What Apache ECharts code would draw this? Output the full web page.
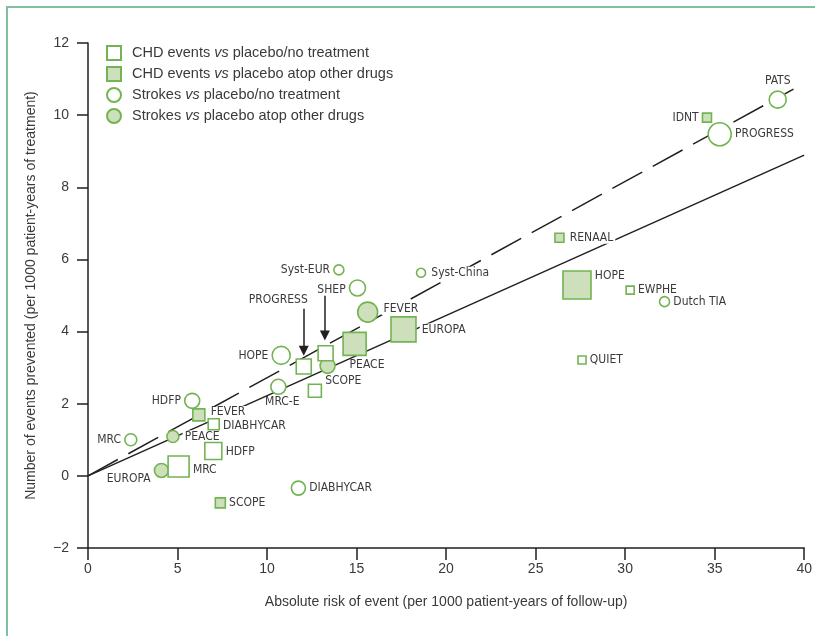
<!DOCTYPE html>
<html>
<head>
<meta charset="utf-8">
<script src="https://cdn.jsdelivr.net/npm/echarts@6/dist/echarts.min.js"></script>
<style>
  html, body { margin: 0; padding: 0; background: #fff; }
  #chart { width: 815px; height: 636px; }
  #frame { position: absolute; left: 6px; top: 6px; right: 0; bottom: 0;
           border-top: 2px solid #80bfa0; border-left: 2px solid #80bfa0; pointer-events: none; }
</style>
</head>
<body>
<div id="chart"></div>
<div id="frame"></div>
<script>
// --- data ---
var chdOpenNames = ['PROGRESS', 'SHEP', 'SCOPE', 'DIABHYCAR', 'HDFP', 'MRC', 'EWPHE', 'QUIET'];
var chdOpenX = [12.05, 13.27, 12.67, 7.02, 7.0, 5.06, 30.28, 27.59];
var chdOpenY = [3.03, 3.40, 2.36, 1.43, 0.69, 0.26, 5.15, 3.21];

var chdAtopNames = ['IDNT', 'RENAAL', 'HOPE', 'EUROPA', 'PEACE', 'FEVER', 'SCOPE'];
var chdAtopX = [34.57, 26.33, 27.31, 17.62, 14.89, 6.19, 7.39];
var chdAtopY = [9.93, 6.60, 5.29, 4.06, 3.66, 1.69, -0.75];

var strokeOpenNames = ['PATS', 'PROGRESS', 'Syst-EUR', 'Syst-China', 'SHEP', 'Dutch TIA', 'HOPE', 'MRC-E', 'HDFP', 'MRC', 'DIABHYCAR'];
var strokeOpenX = [38.52, 35.28, 14.01, 18.6, 15.05, 32.2, 10.79, 10.63, 5.82, 2.39, 11.75];
var strokeOpenY = [10.43, 9.47, 5.71, 5.63, 5.21, 4.83, 3.34, 2.47, 2.08, 1.0, -0.34];

var strokeAtopNames = ['FEVER', 'SCOPE', 'PEACE', 'EUROPA'];
var strokeAtopX = [15.62, 13.38, 4.74, 4.1];
var strokeAtopY = [4.54, 3.05, 1.09, 0.15];

// fitted lines (start, end)
var dashedLine = [[0, 0], [39.4, 10.72]];
var solidLine = [[0, 0], [40, 8.89]];

// arrows pointing at the CHD squares of PROGRESS and SHEP
var arrowNames = ['PROGRESS', 'SHEP'];
var arrowX = [12.05, 13.23];
var arrowFromY = [4.63, 4.99];
var arrowToY = [3.47, 3.89];

var xTicks = [0, 5, 10, 15, 20, 25, 30, 35, 40];
var yTicks = [-2, 0, 2, 4, 6, 8, 10, 12];

var legendNames = [
  'CHD events vs placebo/no treatment',
  'CHD events vs placebo atop other drugs',
  'Strokes vs placebo/no treatment',
  'Strokes vs placebo atop other drugs'
];

// --- marker sizes and label placement (visual only) ---
var chdOpenSize = [15, 15, 13, 11, 17, 21, 8, 8];
var chdAtopSize = [9, 9, 28, 25, 23, 12, 10];
var strokeOpenSize = [17, 23, 10, 9, 16, 10, 18, 15, 15, 12, 14];
var strokeAtopSize = [20, 15, 12, 14];

// [position, dx, dy, white box behind text]
var chdOpenPlace = [null, null, ['right', 0, -10], ['right', 0, 2], ['right', 0, 1], ['right', 0, 3], ['right', 0, 0], ['right', 0, 0]];
var chdAtopPlace = [['left', 0, 0], ['right', 0, 0, true], ['right', 0, -9], ['right', 0, 0, true], ['bottomLeft', -5, 0], ['right', 0, -3, true], ['right', 0, 0]];
var strokeOpenPlace = [['top', 0, 0], ['right', 0, 0], ['left', 0, 0], ['right', 0, 0, true], ['left', 0, 2], ['right', 0, 0], ['left', 0, 0], ['bottom', 4, -2], ['left', 0, 0], ['left', 0, 0], ['right', 0, 0]];
var strokeAtopPlace = [['right', 0, -3, true], null, ['right', 0, 0, true], ['left', 0, 8]];

var green = '#72b452';
var fill = '#cde0bb';
var ink = '#231f20';
var text = '#3a3a3a';
var font = "'Liberation Sans', Arial, sans-serif";
var narrow = "'Liberation Sans Narrow', 'DejaVu Sans Condensed', sans-serif";

function labelFor(p) {
  if (!p) return { show: false };
  var l = {
    show: true,
    formatter: '{b}',
    fontFamily: narrow,
    fontSize: 12,
    color: text,
    distance: 3,
    offset: [p[1], p[2]]
  };
  if (p[3]) {
    l.backgroundColor = '#fff';
    l.padding = [0, 2];
  }
  if (p[0] === 'bottomLeft') {
    l.position = 'bottom';
    l.align = 'left';
  } else {
    l.position = p[0];
  }
  return l;
}

function points(names, xs, ys, sizes, places) {
  return names.map(function(n, i) {
    return {
      name: n,
      value: [xs[i], ys[i]],
      symbolSize: sizes[i],
      label: labelFor(places[i])
    };
  });
}

var chart = echarts.init(document.getElementById('chart'), null, { renderer: 'canvas' });

chart.setOption({
  animation: false,
  grid: { left: 88, right: 8, top: 43, bottom: 88 },
  legend: {
    orient: 'vertical',
    left: 106,
    top: 45,
    padding: 0,
    itemWidth: 14,
    itemHeight: 14,
    itemGap: 5,
    data: [
      { name: legendNames[0], icon: 'rect' },
      { name: legendNames[1], icon: 'rect' },
      { name: legendNames[2], icon: 'circle' },
      { name: legendNames[3], icon: 'circle' }
    ],
    formatter: function(name) {
      var parts = name.split(' vs ');
      return '{a|' + parts[0] + ' }{i|vs}{a| ' + parts[1] + '}';
    },
    textStyle: {
      fontFamily: font,
      fontSize: 14.5,
      color: text,
      padding: [0, 0, 0, 6],
      rich: {
        a: { fontFamily: font, fontSize: 14.5, color: text },
        i: { fontFamily: font, fontSize: 14.5, color: text, fontStyle: 'italic' }
      }
    }
  },
  xAxis: {
    type: 'value',
    min: xTicks[0],
    max: xTicks[xTicks.length - 1],
    interval: 5,
    name: 'Absolute risk of event (per 1000 patient-years of follow-up)',
    nameLocation: 'middle',
    nameGap: 47,
    nameTextStyle: { fontFamily: font, fontSize: 14, color: text },
    axisLine: { onZero: false, lineStyle: { color: ink, width: 1.5 } },
    axisTick: { length: 12, lineStyle: { color: ink, width: 1.5 } },
    axisLabel: { margin: 14, fontFamily: font, fontSize: 14, color: text },
    splitLine: { show: false }
  },
  yAxis: {
    type: 'value',
    min: yTicks[0],
    max: yTicks[yTicks.length - 1],
    interval: 2,
    name: 'Number of events prevented (per 1000 patient-years of treatment)',
    nameLocation: 'middle',
    nameGap: 50,
    nameTextStyle: { fontFamily: font, fontSize: 14, color: text },
    axisLine: { onZero: false, lineStyle: { color: ink, width: 1.5 } },
    axisTick: { length: 11, lineStyle: { color: ink, width: 1.5 } },
    axisLabel: {
      margin: 19,
      fontFamily: font,
      fontSize: 14,
      color: text,
      formatter: function(v) { return v < 0 ? '\u2212' + Math.abs(v) : String(v); }
    },
    splitLine: { show: false }
  },
  series: [
    {
      type: 'line',
      name: 'dashed',
      data: dashedLine,
      symbol: 'none',
      z: 1,
      lineStyle: { color: ink, width: 1.5, type: [34, 12] }
    },
    {
      type: 'line',
      name: 'solid',
      data: solidLine,
      symbol: 'none',
      z: 1,
      lineStyle: { color: ink, width: 1.5 }
    },
    {
      type: 'lines',
      coordinateSystem: 'cartesian2d',
      z: 4,
      symbol: ['none', 'triangle'],
      symbolSize: 10,
      lineStyle: { color: ink, width: 1.5, opacity: 1 },
      itemStyle: { color: ink },
      data: arrowNames.map(function(n, i) {
        return { name: n, coords: [[arrowX[i], arrowFromY[i]], [arrowX[i], arrowToY[i]]] };
      })
    },
    {
      type: 'scatter',
      name: 'arrow label',
      z: 4,
      symbolSize: 0,
      itemStyle: { opacity: 1 },
      data: [{ name: arrowNames[0], value: [arrowX[0], arrowFromY[0]] }],
      label: {
        show: true, formatter: '{b}', position: 'top', align: 'right', distance: 3, offset: [4, 0],
        fontFamily: narrow, fontSize: 12, color: text, opacity: 1
      }
    },
    {
      type: 'scatter',
      name: legendNames[1],
      symbol: 'rect',
      z: 2,
      itemStyle: { color: fill, borderColor: green, borderWidth: 1.6, opacity: 1 },
      data: points(chdAtopNames, chdAtopX, chdAtopY, chdAtopSize, chdAtopPlace)
    },
    {
      type: 'scatter',
      name: legendNames[3],
      symbol: 'circle',
      z: 2,
      itemStyle: { color: fill, borderColor: green, borderWidth: 1.6, opacity: 1 },
      data: points(strokeAtopNames, strokeAtopX, strokeAtopY, strokeAtopSize, strokeAtopPlace)
    },
    {
      type: 'scatter',
      name: legendNames[2],
      symbol: 'circle',
      z: 3,
      itemStyle: { color: '#fff', borderColor: green, borderWidth: 1.6, opacity: 1 },
      data: points(strokeOpenNames, strokeOpenX, strokeOpenY, strokeOpenSize, strokeOpenPlace)
    },
    {
      type: 'scatter',
      name: legendNames[0],
      symbol: 'rect',
      z: 3,
      itemStyle: { color: '#fff', borderColor: green, borderWidth: 1.6, opacity: 1 },
      data: points(chdOpenNames, chdOpenX, chdOpenY, chdOpenSize, chdOpenPlace)
    }
  ]
});
window.addEventListener('resize', function() { chart.resize(); });
</script>
</body>
</html>
